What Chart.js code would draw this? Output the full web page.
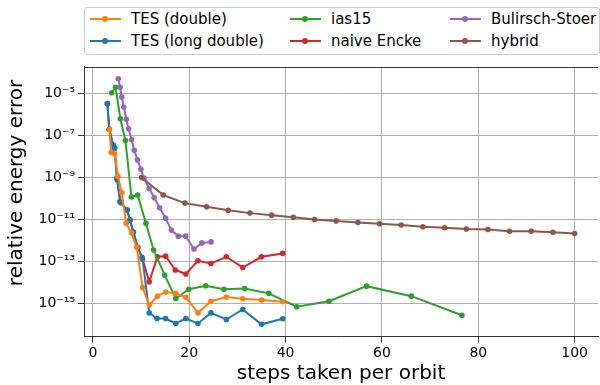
<!DOCTYPE html>
<html>
<head>
<meta charset="utf-8">
<script src="https://cdn.jsdelivr.net/npm/chart.js@4.4.1/dist/chart.umd.min.js"></script>
<style>
    html, body { margin: 0; padding: 0; overflow: hidden; background: #fff; }
    #wrap { position: relative; width: 602px; height: 385px; }
    #legend {
        position: absolute; left: 84px; top: 7px; width: 514px; height: 46px;
        border: 1px solid #cccccc; border-radius: 3px; background: #fff;
        font-family: 'DejaVu Sans', sans-serif; font-size: 15px; color: #000;
    }
    .item { position: absolute; height: 20px; line-height: 20px; white-space: nowrap; }
    .swatch { position: absolute; left: 0; top: 9px; width: 31px; height: 2px; }
    .dot { position: absolute; left: 12px; top: -2px; width: 6px; height: 6px; border-radius: 50%; }
    .item span { position: absolute; left: 41px; top: 0; }
</style>
</head>
<body>
<div id="wrap">
    <canvas id="errChart" width="602" height="385"></canvas>
    <div id="legend"></div>
</div>
<script>
// TES (long double)
const ldSteps = [3.0, 3.4, 4.2, 4.5, 5.0, 5.8, 7.1, 7.7, 8.4, 9.3, 10.3, 11.7, 13.3, 15.1, 17.2, 19.3, 21.8, 24.5, 27.7, 31.1, 35.0, 39.4];
const ldErr = [3.3e-6, 2.0e-7, 3.5e-8, 2.5e-8, 7.9e-10, 6.3e-11, 2.8e-11, 9.3e-12, 2.5e-12, 4.7e-13, 1.3e-13, 3.5e-16, 1.9e-16, 1.9e-16, 1.1e-16, 1.9e-16, 1.1e-16, 3.5e-16, 1.7e-16, 5.1e-16, 1.0e-16, 1.85e-16];

// TES (double)
const dblSteps = [3.4, 3.8, 4.5, 5.2, 6.0, 6.9, 8.0, 9.1, 10.3, 11.7, 13.4, 15.1, 17.2, 19.3, 21.8, 24.5, 27.7, 31.1, 35.0, 39.4];
const dblErr = [1.95e-7, 1.6e-8, 1.4e-8, 1.15e-9, 1.9e-10, 6.5e-12, 2.3e-12, 4.7e-13, 5.75e-15, 8.3e-16, 2.2e-15, 3.5e-15, 3.0e-15, 1.95e-15, 3.5e-16, 1.26e-15, 2.0e-15, 1.66e-15, 1.45e-15, 1.2e-15];

// ias15
const iasSteps = [3.9, 4.7, 5.7, 6.75, 8.0, 9.3, 11.0, 12.6, 14.9, 17.2, 19.9, 23.4, 27.2, 31.5, 36.5, 42.3, 49.0, 56.8, 66.1, 76.6];
const iasErr = [1.1e-5, 2.0e-5, 6.3e-7, 5.75e-8, 1.17e-10, 1.45e-10, 6.5e-12, 3.5e-13, 2.2e-14, 1.7e-15, 4.7e-15, 6.9e-15, 4.7e-15, 5.1e-15, 3.0e-15, 6.9e-16, 1.26e-15, 6.6e-15, 2.2e-15, 2.7e-16];

// naive Encke
const enckeSteps = [3.0, 3.4, 4.2, 4.5, 5.0, 5.6, 7.1, 7.7, 8.4, 9.3, 10.2, 11.7, 13.4, 15.1, 17.1, 19.3, 21.8, 24.5, 27.7, 31.1, 35.0, 39.4];
const enckeErr = [3.3e-6, 2.0e-7, 3.5e-8, 2.5e-8, 1.0e-9, 6.9e-11, 2.8e-11, 9.3e-12, 2.5e-12, 4.7e-13, 1.55e-13, 1.07e-14, 1.66e-13, 1.78e-13, 3.9e-14, 2.5e-14, 1.07e-13, 7.9e-14, 1.66e-13, 5.1e-14, 1.66e-13, 2.4e-13];

// Bulirsch-Stoer
const bsSteps = [5.27, 5.64, 5.99, 6.41, 6.92, 7.40, 8.02, 8.58, 9.26, 9.96, 10.6, 11.68, 12.71, 13.85, 15.09, 16.29, 17.73, 19.26, 20.98, 22.63, 24.53];
const bsErr = [5.1e-5, 2.0e-5, 6.9e-6, 2.3e-6, 6.0e-7, 2.1e-7, 6.3e-8, 2.0e-8, 6.9e-9, 2.45e-9, 9.3e-10, 3.0e-10, 1.1e-10, 3.6e-11, 1.15e-11, 3.1e-12, 1.6e-12, 1.6e-12, 3.9e-13, 7.6e-13, 8.5e-13];

// hybrid
const hybSteps = [10.1, 14.6, 19.1, 23.6, 28.1, 32.6, 37.1, 41.6, 46.0, 50.5, 55.0, 59.5, 64.0, 68.5, 73.0, 77.5, 82.0, 86.5, 91.0, 95.5, 100];
const hybErr = [1.0e-9, 1.45e-10, 6.0e-11, 4.0e-11, 2.75e-11, 2.0e-11, 1.6e-11, 1.26e-11, 1.0e-11, 8.5e-12, 7.2e-12, 6.2e-12, 5.4e-12, 4.5e-12, 4.0e-12, 3.5e-12, 3.3e-12, 2.75e-12, 2.75e-12, 2.45e-12, 2.15e-12];

const xTicks = [0, 20, 40, 60, 80, 100];
const yTickExp = [-15, -13, -11, -9, -7, -5];

const toPoints = (xs, ys) => xs.map((x, i) => ({ x: x, y: ys[i] }));

function series(label, xs, ys, color, order) {
    return {
        label: label,
        data: toPoints(xs, ys),
        borderColor: color,
        backgroundColor: color,
        borderWidth: 2,
        pointRadius: 2.8,
        pointBorderWidth: 0,
        pointBackgroundColor: color,
        tension: 0,
        order: order
    };
}

// lower order = drawn on top
const datasets = [
    series('TES (double)', dblSteps, dblErr, '#ff7f0e', 2),
    series('TES (long double)', ldSteps, ldErr, '#1f77b4', 3),
    series('ias15', iasSteps, iasErr, '#2ca02c', 4),
    series('naive Encke', enckeSteps, enckeErr, '#d62728', 5),
    series('Bulirsch-Stoer', bsSteps, bsErr, '#9467bd', 1),
    series('hybrid', hybSteps, hybErr, '#8c564b', 0)
];

const sup = { '-': '\u207b', '0': '\u2070', '1': '\u00b9', '2': '\u00b2', '3': '\u00b3',
    '4': '\u2074', '5': '\u2075', '6': '\u2076', '7': '\u2077', '8': '\u2078', '9': '\u2079' };

// top spine plus the y-axis label (sits a bit above the axis centre)
const frameExtras = {
    id: 'frameExtras',
    afterDraw(chart) {
        const { ctx, chartArea: a } = chart;
        ctx.save();
        ctx.strokeStyle = '#333';
        ctx.lineWidth = 1;
        ctx.beginPath();
        ctx.moveTo(a.left, Math.round(a.top) + 0.5);
        ctx.lineTo(a.right, Math.round(a.top) + 0.5);
        ctx.stroke();

        ctx.translate(17, 183);
        ctx.rotate(-Math.PI / 2);
        ctx.fillStyle = '#000';
        ctx.font = "20px 'DejaVu Sans', sans-serif";
        ctx.textAlign = 'center';
        ctx.textBaseline = 'middle';
        ctx.fillText('relative energy error', 0, 0);
        ctx.restore();
    }
};

Chart.defaults.font.family = "'DejaVu Sans', sans-serif";
Chart.defaults.color = '#000';

const ctx = document.getElementById('errChart').getContext('2d');
const errChart = new Chart(ctx, {
    type: 'line',
    data: { datasets: datasets },
    options: {
        responsive: false,
        animation: false,
        devicePixelRatio: 1,
        layout: { padding: { top: 66.5, right: 1, left: 0, bottom: 0 } },
        plugins: {
            legend: { display: false },
            tooltip: { enabled: false }
        },
        scales: {
            x: {
                type: 'linear',
                min: -1.85,
                max: 104.85,
                afterBuildTicks: s => { s.ticks = xTicks.map(v => ({ value: v })); },
                afterFit: s => { s.height = 48.5; },
                grid: { color: '#b0b0b0', lineWidth: 1, tickLength: 6, tickColor: '#333' },
                border: { color: '#333', width: 1 },
                ticks: { font: { size: 14 }, padding: 2, maxRotation: 0 },
                title: { display: true, text: 'steps taken per orbit', font: { size: 20, lineHeight: 1.1 }, padding: { top: 0, bottom: 0 } }
            },
            y: {
                type: 'logarithmic',
                min: Math.pow(10, -16.58),
                max: Math.pow(10, -3.71),
                afterBuildTicks: s => { s.ticks = yTickExp.map(e => ({ value: Math.pow(10, e) })); },
                afterFit: s => { s.width = 84; },
                grid: { color: '#b0b0b0', lineWidth: 1, tickLength: 6, tickColor: '#333' },
                border: { color: '#333', width: 1 },
                ticks: {
                    font: { size: 14 },
                    padding: 3,
                    autoSkip: false,
                    callback: v => '10' + String(Math.round(Math.log10(v))).split('').map(c => sup[c]).join('')
                }
            }
        }
    },
    plugins: [frameExtras]
});

// three-column legend, filled column by column
const legendCols = [5, 205, 365];
const legendRows = [1, 22.7];
const legendEl = document.getElementById('legend');
datasets.forEach((d, i) => {
    const item = document.createElement('div');
    item.className = 'item';
    item.style.left = legendCols[Math.floor(i / 2)] + 'px';
    item.style.top = legendRows[i % 2] + 'px';
    item.innerHTML = '<div class="swatch" style="background:' + d.borderColor + '">' +
        '<div class="dot" style="background:' + d.borderColor + '"></div></div><span></span>';
    item.querySelector('span').textContent = d.label;
    legendEl.appendChild(item);
});
</script>
</body>
</html>
